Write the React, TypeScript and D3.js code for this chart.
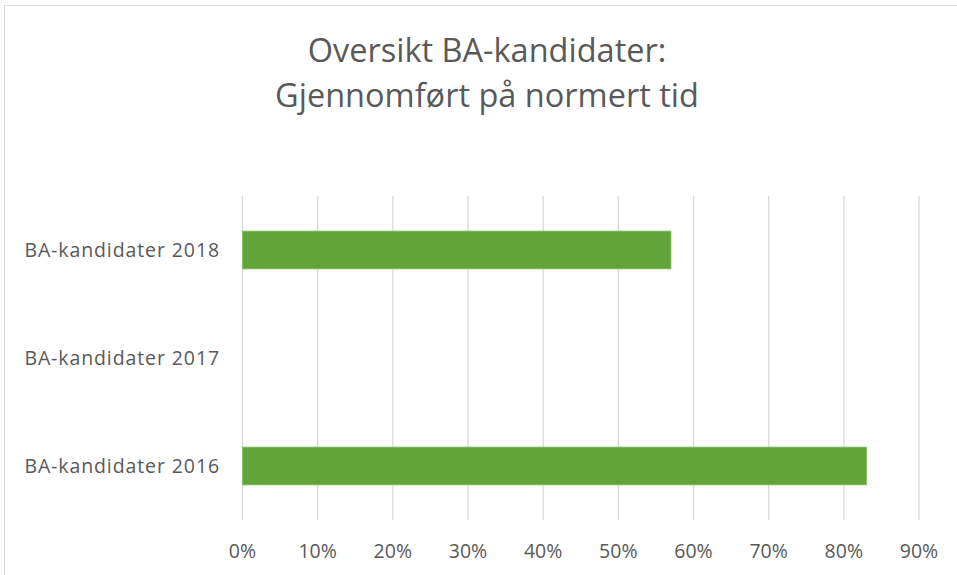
import React from "react";
import * as d3 from "d3";

const categories = ["BA-kandidater 2018", "BA-kandidater 2017", "BA-kandidater 2016"];
const values: (number | null)[] = [0.57, null, 0.83];
const ticks = [0, 0.1, 0.2, 0.3, 0.4, 0.5, 0.6, 0.7, 0.8, 0.9];
const titleLines = ["Oversikt BA-kandidater:", "Gjennomført på normert tid"];

const W = 957;
const H = 575;
const FONT = "'Open Sans', 'Noto Sans', sans-serif";

const App = () => {
  const svgRef = React.useRef<SVGSVGElement>(null);

  React.useEffect(() => {
    const svg = d3.select(svgRef.current);
    svg.selectAll("*").remove();

    // ramme rundt diagrammet
    svg.append("rect")
      .attr("x", 4.5).attr("y", 5.5)
      .attr("width", W + 10).attr("height", H + 10)
      .attr("fill", "white")
      .attr("stroke", "#d9d9d9");

    const x = d3.scaleLinear().domain([0, 0.9]).range([242.5, 919]);
    const y = d3.scaleBand<string>()
      .domain(categories)
      .range([196, 520])
      .paddingInner(0.65)
      .paddingOuter(0.325);

    // tittel
    svg.append("g")
      .selectAll("text")
      .data(titleLines)
      .enter()
      .append("text")
      .attr("x", 487)
      .attr("y", (d, i) => 62 + i * 45)
      .attr("text-anchor", "middle")
      .attr("fill", "#595959")
      .attr("font-family", FONT)
      .attr("font-size", 32.5)
      .text((d) => d);

    // rutenett
    svg.append("g")
      .selectAll("line")
      .data(ticks)
      .enter()
      .append("line")
      .attr("x1", (d) => x(d)).attr("x2", (d) => x(d))
      .attr("y1", 196).attr("y2", 520)
      .attr("stroke", "#d9d9d9")
      .attr("stroke-width", 1.3);

    // stolper
    svg.append("g")
      .selectAll("rect")
      .data(categories.map((c, i) => ({ c, v: values[i] })).filter((d) => d.v != null))
      .enter()
      .append("rect")
      .attr("x", x(0))
      .attr("y", (d) => y(d.c)!)
      .attr("width", (d) => x(d.v as number) - x(0))
      .attr("height", y.bandwidth())
      .attr("fill", "#62a438")
      .attr("stroke", "#7fc05a")
      .attr("stroke-width", 0.8);

    // x-akse
    svg.append("g")
      .selectAll("text")
      .data(ticks)
      .enter()
      .append("text")
      .attr("x", (d) => x(d))
      .attr("y", 558)
      .attr("text-anchor", "middle")
      .attr("fill", "#595959")
      .attr("font-family", FONT)
      .attr("font-size", 19.5)
      .text((d) => d3.format(".0%")(d));

    // kategorier
    svg.append("g")
      .selectAll("text")
      .data(categories)
      .enter()
      .append("text")
      .attr("x", 220)
      .attr("y", (d) => y(d)! + y.bandwidth() / 2 + 7)
      .attr("text-anchor", "end")
      .attr("fill", "#595959")
      .attr("font-family", FONT)
      .attr("font-size", 19.5)
      .attr("letter-spacing", 0.9)
      .text((d) => d);
  }, []);

  return (
    <svg
      ref={svgRef}
      width={W}
      height={H}
      style={{ display: "block", position: "absolute", top: 0, left: 0 }}
    />
  );
};

export default App;
